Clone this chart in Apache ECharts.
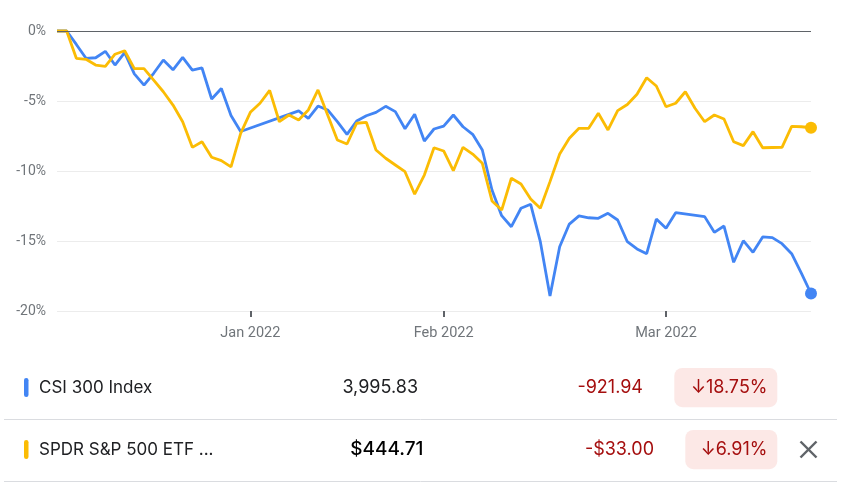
<!DOCTYPE html>
<html><head><meta charset="utf-8">
<script src="https://cdn.jsdelivr.net/npm/echarts@6/dist/echarts.min.js"></script>
<style>html,body{margin:0;padding:0;background:#fff}#c{width:848px;height:488px}</style>
</head><body><div id="c"></div>
<script>
// trading-day index along the x axis
const days = [0,1,2,3,4,5,6,7,8,9,10,11,12,13,14,15,16,17,18,19,20,21,22,23,24,25,26,27,28,29,30,31,32,33,34,35,36,37,38,39,40,41,42,43,44,45,46,47,48,49,50,51,52,53,54,55,56,57,58,59,60,61,62,63,64,65,66,67,68,69,70,71,72,73,74,75,76,77,78];
const tickDays = [20, 40, 63];
const tickLabels = ['Jan 2022', 'Feb 2022', 'Mar 2022'];

// % change since start
const csi300 = [0,0,-0.96,-1.95,-1.91,-1.45,-2.43,-1.54,-3.06,-3.86,-3.02,-2.07,-2.77,-1.88,-2.79,-2.64,-4.86,-4.11,-6.04,-7.18,
  null,null,null,null,null,-5.71,-6.24,-5.36,-5.64,-6.48,-7.38,-6.43,-6.05,-5.81,-5.38,-5.76,-6.98,-5.95,-7.86,-7.00,
  -6.79,-6.00,-6.84,-7.38,-8.50,-11.36,-13.19,-13.98,-12.66,-12.38,-15.05,-18.93,-15.41,-13.79,-13.21,-13.34,-13.38,-13.02,-13.50,-15.05,
  -15.57,-15.91,-13.43,-14.09,-12.98,null,null,-13.26,-14.38,-13.93,-16.52,-14.98,-15.81,-14.71,-14.76,-15.19,-15.91,-17.3,-18.75];
const spy = [0,0,-1.95,-2.02,-2.43,-2.52,-1.66,-1.41,-2.69,-2.69,-3.51,-4.34,-5.29,-6.48,-8.31,-7.91,-9.02,-9.26,-9.71,-7.31,
  -5.81,-5.16,-4.24,-6.48,-6.00,-6.36,-5.64,-4.21,-6.00,-7.79,-8.07,-6.59,-6.52,-8.50,-9.09,-9.57,-10.05,-11.66,-10.29,-8.34,
  -8.57,-9.98,-8.31,-8.79,-9.45,-12.14,-12.79,-10.52,-10.93,-12.00,-12.66,-10.76,-8.79,-7.66,-6.95,-6.95,-5.88,-7.07,-5.69,-5.25,
  -4.52,-3.34,-3.93,-5.41,-5.16,-4.34,-5.52,-6.48,-6.00,-6.29,-7.91,-8.19,-7.19,-8.34,-8.32,-8.31,-6.81,-6.84,-6.91];

// table below the chart
const names = ['CSI 300 Index', 'SPDR S&P 500 ETF ...'];
const prices = ['3,995.83', '$444.71'];
const changes = ['-921.94', '-$33.00'];
const pcts = ['\u219318.75%', '\u21936.91%'];
const seriesColors = ['#4285F4', '#FBBC04'];

const chart = echarts.init(document.getElementById('c'), null, {renderer: 'canvas'});
const last = days.length - 1;
const endDot = (v, p) => (p.dataIndex === last ? 12 : 0);

const rowY = [387.5, 449.5];
const badgeW = [103, 92];
const graphics = [];
const FONT = 'Inter, Roboto, sans-serif';
for (let r = 0; r < names.length; r++) {
  const cy = rowY[r];
  graphics.push({type: 'rect', shape: {x: 24, y: cy - 9.5, width: 4.5, height: 19, r: 2.2}, style: {fill: seriesColors[r]}});
  graphics.push({type: 'text', x: 39, y: cy, style: {text: names[r], fill: '#202124', font: '400 17px ' + FONT, align: 'left', verticalAlign: 'middle'}});
  graphics.push({type: 'text', x: r === 0 ? 418 : 423.5, y: cy, style: {text: prices[r], fill: r === 0 ? '#202124' : '#000000', font: (r === 0 ? '400 18px ' : '500 19px ') + FONT, align: 'right', verticalAlign: 'middle'}});
  graphics.push({type: 'text', x: r === 0 ? 643 : 654, y: cy, style: {text: changes[r], fill: '#a50e0e', font: '400 18px ' + FONT, align: 'right', verticalAlign: 'middle'}});
  graphics.push({type: 'rect', shape: {x: 777.3 - badgeW[r], y: cy - 19.6, width: badgeW[r], height: 39.3, r: 8}, style: {fill: '#fce8e6'}});
  graphics.push({type: 'text', x: 767.5, y: cy, style: {text: pcts[r], fill: '#a50e0e', font: '400 18px ' + FONT, align: 'right', verticalAlign: 'middle'}});
  graphics.push({type: 'line', shape: {x1: 4, y1: cy + 32, x2: 837, y2: cy + 32}, style: {stroke: '#dadce0', lineWidth: 1}});
}
// close icon on second row
graphics.push({type: 'line', shape: {x1: 800.5, y1: 441.5, x2: 816.5, y2: 457.5}, style: {stroke: '#5f6368', lineWidth: 2.4}});
graphics.push({type: 'line', shape: {x1: 816.5, y1: 441.5, x2: 800.5, y2: 457.5}, style: {stroke: '#5f6368', lineWidth: 2.4}});

chart.setOption({
  animation: false,
  backgroundColor: '#ffffff',
  grid: {left: 57, right: 37, top: 31, bottom: 177, containLabel: false},
  xAxis: {
    type: 'category', data: days, boundaryGap: false, position: 'bottom',
    axisLine: {show: false, onZero: false},
    axisTick: {show: true, interval: (i) => tickDays.includes(i), length: 6, lineStyle: {color: '#5f6368', width: 2}},
    axisLabel: {interval: (i) => tickDays.includes(i), formatter: (v, i) => tickLabels[tickDays.indexOf(i)] || '',
      color: '#70757a', fontSize: 14.5, fontFamily: 'Roboto', margin: 15},
    splitLine: {show: false}
  },
  yAxis: {
    type: 'value', min: -20, max: 0, interval: 5,
    axisLine: {show: false}, axisTick: {show: false},
    axisLabel: {formatter: '{value}%', color: '#70757a', fontSize: 14, fontFamily: 'Roboto', margin: 11},
    splitLine: {lineStyle: {color: '#ececec', width: 1}}
  },
  series: [
    {
      name: names[0], type: 'line', data: csi300, connectNulls: true, clip: false,
      symbol: 'circle', showSymbol: true, showAllSymbol: true, symbolSize: endDot,
      lineStyle: {color: seriesColors[0], width: 2.8}, itemStyle: {color: seriesColors[0]},
      markLine: {silent: true, symbol: ['none', 'none'], label: {show: false},
        lineStyle: {color: '#5f6368', width: 1, type: 'solid'}, data: [{yAxis: 0}]}
    },
    {
      name: names[1], type: 'line', data: spy, connectNulls: true, clip: false,
      symbol: 'circle', showSymbol: true, showAllSymbol: true, symbolSize: endDot,
      lineStyle: {color: seriesColors[1], width: 2.8}, itemStyle: {color: seriesColors[1]}
    }
  ],
  graphic: {elements: graphics}
});
</script></body></html>
